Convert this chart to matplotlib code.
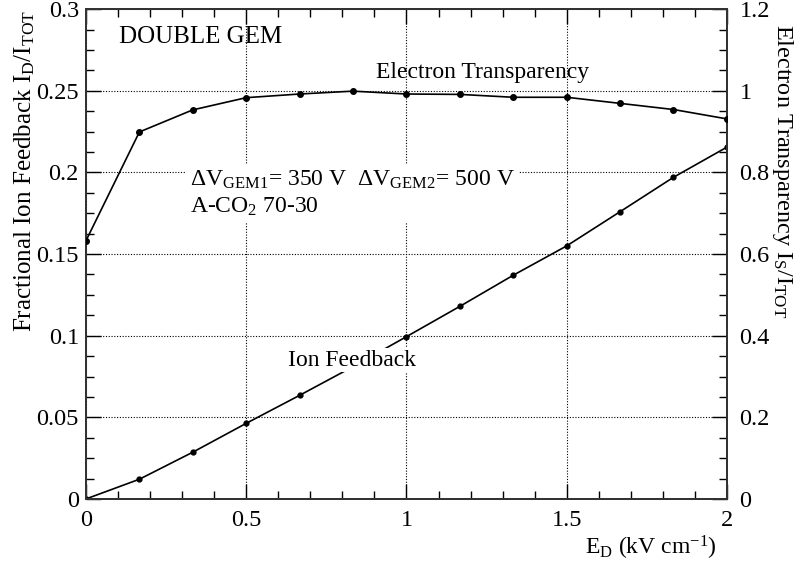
import matplotlib
matplotlib.use("Agg")
import matplotlib.pyplot as plt
from matplotlib.ticker import MultipleLocator, FormatStrFormatter

plt.rcParams['font.family'] = ['Liberation Serif', 'DejaVu Serif']
plt.rcParams['mathtext.fontset'] = 'custom'
plt.rcParams['mathtext.rm'] = 'Liberation Serif'
plt.rcParams['mathtext.it'] = 'Liberation Serif'

# Drift field E_D (kV/cm)
drift_field = [0.0, 0.167, 0.333, 0.5, 0.667, 0.833, 1.0, 1.167, 1.333, 1.5, 1.667, 1.833, 2.0]
# Fractional ion feedback I_D/I_TOT (left axis)
ion_feedback = [0.0, 0.0121, 0.0286, 0.0463, 0.0635, 0.081, 0.0994, 0.118, 0.137, 0.155, 0.176, 0.197, 0.2155]
# Electron transparency I_S/I_TOT (right axis)
electron_transp = [0.632, 0.899, 0.953, 0.983, 0.992, 0.999, 0.992, 0.991, 0.984, 0.984, 0.969, 0.954, 0.931]

left_ticks = [0, 0.05, 0.1, 0.15, 0.2, 0.25, 0.3]
right_ticks = [0, 0.2, 0.4, 0.6, 0.8, 1.0, 1.2]
x_ticks = [0, 0.5, 1, 1.5, 2]

fig = plt.figure(figsize=(7.95, 5.68), dpi=100)
ax = fig.add_axes([0.108, 0.1215, 0.8065, 0.8625])
ax2 = ax.twinx()

ax.set_xlim(0, 2)
ax.set_ylim(0, 0.3)
ax2.set_ylim(0, 1.2)

ax.set_xticks(x_ticks)
ax.set_yticks(left_ticks)
ax2.set_yticks(right_ticks)
ax.xaxis.set_minor_locator(MultipleLocator(0.1))
ax.yaxis.set_minor_locator(MultipleLocator(0.0125))
ax2.yaxis.set_minor_locator(MultipleLocator(0.05))
ax.xaxis.set_major_formatter(FormatStrFormatter('%g'))
ax.yaxis.set_major_formatter(FormatStrFormatter('%g'))
ax2.yaxis.set_major_formatter(FormatStrFormatter('%g'))

ax.grid(True, which='major', color='black', linestyle=(0, (1, 1.5)), linewidth=0.8)
ax.set_axisbelow(True)

ax.tick_params(axis='x', which='both', direction='in', top=True, labelsize=17.5, pad=8)
ax.tick_params(axis='y', which='both', direction='in', right=False, labelsize=17.5, pad=5)
ax.tick_params(which='major', length=11, width=1)
ax.tick_params(which='minor', length=6, width=1)
ax2.tick_params(axis='y', which='both', direction='in', labelsize=17.5, pad=9)
ax2.tick_params(which='major', length=11, width=1)
ax2.tick_params(which='minor', length=6, width=1)

for a in (ax, ax2):
    for sp in a.spines.values():
        sp.set_linewidth(1.4)
        sp.set_color('#333333')

# curves
ax.plot(drift_field, ion_feedback, color='black', lw=1.2, marker='o', ms=3.5, zorder=3)
ax2.plot(drift_field, electron_transp, color='black', lw=1.2, marker='o', ms=4, zorder=3)

# annotations
ax2.set_zorder(ax.get_zorder() + 1)
ax2.patch.set_visible(False)

ax.text(0.103, 0.283, 'DOUBLE GEM', fontsize=18, ha='left', va='center')
ax.text(1.237, 0.261, 'Electron Transparency', fontsize=17, ha='center', va='center')
ax.text(0.325, 0.187,
        r'ΔV$_{\mathrm{GEM1}}$= 350 V  ΔV$_{\mathrm{GEM2}}$= 500 V' + '\n' + r'A-CO$_{\mathrm{2}}$ 70-30',
        fontsize=17, ha='left', va='center', linespacing=1.25,
        bbox=dict(facecolor='white', edgecolor='none', pad=3), zorder=2)
ax2.text(0.83, 0.34, 'Ion Feedback', fontsize=17, ha='center', va='center',
         bbox=dict(facecolor='white', edgecolor='none', pad=1), zorder=5)

fig.text(0.031, 0.982, r'Fractional Ion Feedback I$_{\mathrm{D}}$/I$_{\mathrm{TOT}}$',
         rotation=90, ha='center', va='top', fontsize=18)
fig.text(0.984, 0.958, r'Electron Transparency I$_{\mathrm{S}}$/I$_{\mathrm{TOT}}$',
         rotation=-90, ha='center', va='top', fontsize=17.5)
fig.text(0.902, 0.035, r'E$_{\mathrm{D}}$ (kV cm$^{\mathrm{-1}}$)',
         ha='right', va='center', fontsize=17)

fig.savefig('out.png', dpi=100)
